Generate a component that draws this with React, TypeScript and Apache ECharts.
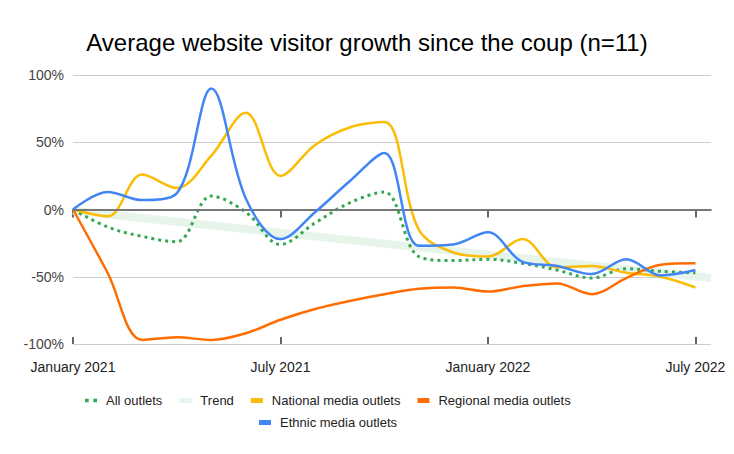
import React, { useEffect, useRef } from "react";
import * as echarts from "echarts";

// Month index 0 = January 2021 ... 18 = July 2022
const monthIndex = [0, 1, 2, 3, 4, 5, 6, 7, 8, 9, 10, 11, 12, 13, 14, 15, 16, 17, 18];
const tickMonths = [0, 6, 12, 18];
const tickLabels = ["January 2021", "July 2021", "January 2022", "July 2022"];

const allOutlets = [0, -13, -20, -24, 10, -2, -26, -10, 5, 13, -35, -38, -37, -40, -45, -51, -44, -46, -47];
const national = [0, -5, 26, 16, 40, 72, 25, 48, 61, 65, -15, -32, -35, -22, -43, -42, -47, -50, -58];
const regional = [0, -47, -97, -95, -97, -92, -82, -74, -68, -63, -59, -58, -61, -57, -55, -63, -51, -41, -40];
const ethnic = [0, 13, 7, 12, 90, 8, -22, -2, 21, 42, -27, -26, -17, -39, -42, -48, -37, -49, -45];
const trendX = [0, 18.45];
const trendY = [-1, -51];

const FONT = "Arial, 'Liberation Sans', sans-serif";

const pair = (ys: number[]) => ys.map((y, i) => [monthIndex[i], y]);

export default function App() {
  const ref = useRef<HTMLDivElement>(null);
  useEffect(() => {
    if (!ref.current) return;
    const chart = echarts.init(ref.current, undefined, { renderer: "svg" });
    const xMax = 18.45;
    const legendCommon = {
      padding: 0,
      itemWidth: 12,
      itemHeight: 5,
      itemStyle: { borderWidth: 0 },
      lineStyle: { width: 0 },
      textStyle: { fontSize: 13, color: "#222", fontFamily: FONT, padding: [0, 0, 0, 4] },
    };
    chart.setOption({
      animation: false,
      backgroundColor: "#fff",
      title: {
        text: "Average website visitor growth since the coup (n=11)",
        left: "center",
        top: 25,
        textStyle: { fontSize: 24, fontWeight: "normal", color: "#000", fontFamily: FONT },
      },
      grid: { left: 73, right: 23, top: 75, bottom: 110 },
      legend: [
        {
          ...legendCommon,
          left: 85,
          top: 394,
          itemGap: 17,
          data: [
            { name: "All outlets", icon: "path://M0,0h4v4h-4zM9,0h4v4h-4z" },
            { name: "Trend", icon: "rect" },
            { name: "National media outlets", icon: "rect" },
            { name: "Regional media outlets", icon: "rect" },
          ],
        },
        {
          ...legendCommon,
          left: 259,
          top: 416,
          data: [{ name: "Ethnic media outlets", icon: "rect" }],
        },
      ],
      xAxis: [
        {
          type: "value",
          min: 0,
          max: xMax,
          interval: 6,
          axisLine: { show: true, lineStyle: { color: "#333", width: 1.5 } },
          axisTick: { show: true, length: 8, customValues: tickMonths, lineStyle: { color: "#333", width: 1.5 } },
          axisLabel: {
            customValues: tickMonths,
            margin: 16,
            fontSize: 14,
            color: "#222",
            fontFamily: FONT,
            formatter: (v: number) => {
              const i = tickMonths.indexOf(Math.round(v));
              return i >= 0 ? tickLabels[i] : "";
            },
          },
          splitLine: { show: false },
        },
        {
          type: "value",
          min: 0,
          max: xMax,
          interval: 6,
          position: "bottom",
          axisLine: { show: false },
          axisTick: { show: true, inside: true, length: 7, customValues: tickMonths, lineStyle: { color: "#333", width: 1.5 } },
          axisLabel: { show: false },
          splitLine: { show: false },
        },
      ],
      yAxis: {
        type: "value",
        min: -100,
        max: 100,
        interval: 50,
        axisLine: { show: false },
        axisTick: { show: false },
        axisLabel: { margin: 9, fontSize: 14, color: "#444", fontFamily: FONT, formatter: (v: number) => `${v}%` },
        splitLine: { lineStyle: { color: "#ccc", width: 1 } },
      },
      series: [
        {
          name: "Trend",
          type: "line",
          z: 1,
          color: "#E6F4EA",
          showSymbol: false,
          lineStyle: { width: 8, color: "#E6F4EA" },
          data: trendX.map((x, i) => [x, trendY[i]]),
          markLine: {
            silent: true,
            symbol: ["none", "none"],
            label: { show: false },
            lineStyle: { color: "#777", width: 1.8, type: "solid" },
            data: [{ yAxis: 0 }],
          },
        },
        {
          name: "All outlets",
          type: "line",
          z: 2,
          smooth: 0.35,
          color: "#34A853",
          showSymbol: false,
          lineStyle: { width: 3, color: "#34A853", type: [3, 4], cap: "butt" },
          data: pair(allOutlets),
        },
        {
          name: "National media outlets",
          type: "line",
          z: 3,
          smooth: 0.35,
          color: "#FBBC04",
          showSymbol: false,
          lineStyle: { width: 2.5, color: "#FBBC04" },
          data: pair(national),
        },
        {
          name: "Regional media outlets",
          type: "line",
          z: 4,
          smooth: 0.35,
          color: "#FF6D01",
          showSymbol: false,
          lineStyle: { width: 2.5, color: "#FF6D01" },
          data: pair(regional),
        },
        {
          name: "Ethnic media outlets",
          type: "line",
          z: 5,
          smooth: 0.35,
          color: "#4285F4",
          showSymbol: false,
          lineStyle: { width: 2.5, color: "#4285F4" },
          data: pair(ethnic),
        },
      ],
    });
    return () => chart.dispose();
  }, []);
  return <div ref={ref} style={{ position: "fixed", left: 0, top: 0, width: 734, height: 454 }} />;
}
